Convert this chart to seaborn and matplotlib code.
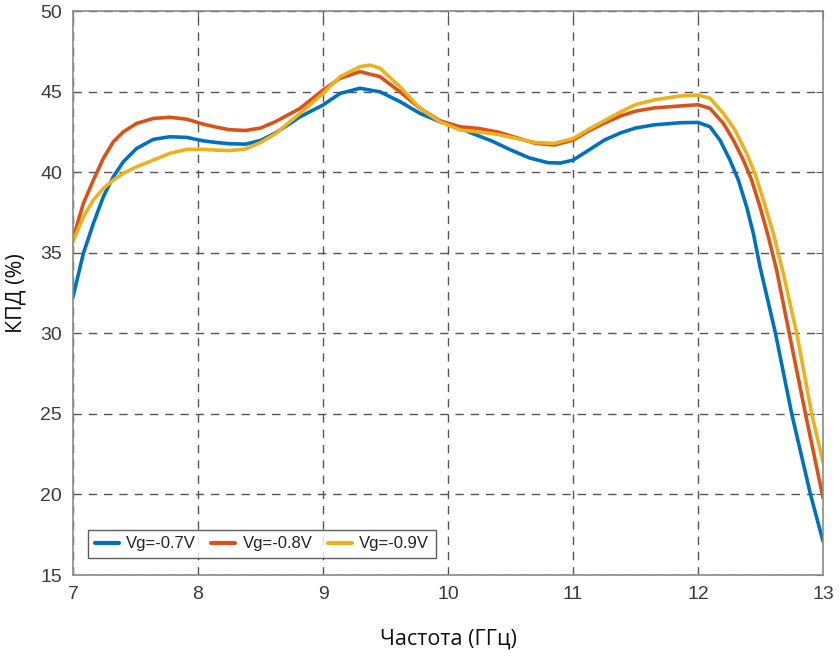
import matplotlib
matplotlib.use("Agg")
import matplotlib.pyplot as plt
import seaborn as sns
import pandas as pd

# Data (frequency in GHz, efficiency in %)
x_07 = [7.0, 7.083, 7.163, 7.243, 7.323, 7.403, 7.51, 7.643, 7.776, 7.91, 8.04, 8.15, 8.25, 8.38,
        8.5, 8.62, 8.75, 8.816, 9.0, 9.136, 9.296, 9.456, 9.616, 9.776, 9.936, 10.096, 10.2, 10.35,
        10.5, 10.65, 10.8, 10.9, 11.0, 11.12, 11.25, 11.38, 11.5, 11.65, 11.856, 12.0, 12.096,
        12.176, 12.256, 12.323, 12.389, 12.443, 12.496, 12.62, 12.75, 12.9, 13.0]
y_07 = [32.27, 34.97, 36.83, 38.49, 39.73, 40.66, 41.49, 42.05, 42.21, 42.17, 41.96, 41.85, 41.78, 41.75,
        41.98, 42.45, 43.1, 43.45, 44.18, 44.9, 45.22, 45.0, 44.39, 43.66, 43.14, 42.73, 42.4, 41.95,
        41.4, 40.9, 40.6, 40.58, 40.76, 41.35, 42.0, 42.45, 42.75, 42.95, 43.08, 43.1, 42.83,
        42.0, 40.76, 39.52, 37.86, 36.2, 34.14, 30.0, 25.0, 20.0, 17.1]

x_08 = [7.0, 7.083, 7.163, 7.243, 7.323, 7.403, 7.51, 7.643, 7.776, 7.91, 8.04, 8.15, 8.25, 8.38,
        8.5, 8.62, 8.816, 9.0, 9.136, 9.296, 9.456, 9.616, 9.776, 9.936, 10.096, 10.25, 10.4,
        10.55, 10.7, 10.85, 11.0, 11.12, 11.25, 11.38, 11.5, 11.65, 11.856, 12.0, 12.096, 12.203,
        12.283, 12.363, 12.429, 12.496, 12.563, 12.629, 12.73, 12.86, 13.0]
y_08 = [35.9, 38.07, 39.52, 40.87, 41.9, 42.52, 43.04, 43.35, 43.42, 43.3, 43.0, 42.8, 42.65, 42.6,
        42.75, 43.15, 43.97, 45.11, 45.84, 46.25, 45.94, 45.0, 43.97, 43.2, 42.83, 42.72, 42.5,
        42.15, 41.8, 41.7, 42.0, 42.55, 43.05, 43.5, 43.8, 44.0, 44.12, 44.2, 43.97, 43.04,
        42.0, 40.76, 39.52, 37.86, 36.0, 33.93, 30.0, 25.0, 19.8]

x_09 = [7.0, 7.083, 7.163, 7.243, 7.323, 7.403, 7.51, 7.643, 7.776, 7.91, 8.04, 8.15, 8.25, 8.38,
        8.5, 8.62, 8.816, 9.0, 9.136, 9.296, 9.376, 9.456, 9.616, 9.776, 9.936, 10.096, 10.25,
        10.4, 10.55, 10.7, 10.85, 11.0, 11.12, 11.25, 11.38, 11.5, 11.65, 11.856, 12.0, 12.096,
        12.203, 12.296, 12.389, 12.456, 12.523, 12.603, 12.683, 12.79, 12.91, 13.0]
y_09 = [35.69, 37.24, 38.28, 39.0, 39.52, 39.94, 40.35, 40.76, 41.18, 41.43, 41.43, 41.38, 41.35, 41.45,
        41.85, 42.4, 43.66, 44.9, 45.94, 46.56, 46.66, 46.46, 45.32, 43.97, 43.14, 42.63, 42.5,
        42.35, 42.1, 41.85, 41.8, 42.1, 42.65, 43.2, 43.75, 44.2, 44.5, 44.74, 44.8, 44.6,
        43.66, 42.63, 41.18, 39.94, 38.28, 36.2, 33.7, 30.0, 25.0, 22.0]

series_names = ["Vg=-0.7V", "Vg=-0.8V", "Vg=-0.9V"]
colors = ["#0072BD", "#D95319", "#EDB120"]
x_ticks = [7, 8, 9, 10, 11, 12, 13]
y_ticks = [15, 20, 25, 30, 35, 40, 45, 50]

frames = []
for name, xs, ys in zip(series_names, [x_07, x_08, x_09], [y_07, y_08, y_09]):
    frames.append(pd.DataFrame({"x": xs, "y": ys, "s": name}))
df = pd.concat(frames, ignore_index=True)

sns.set_style("white")
plt.rcParams['font.family'] = ['Liberation Sans', 'DejaVu Sans']

fig = plt.figure(figsize=(8.4, 6.59), dpi=100)
ax = fig.add_axes([73/840, 1-575/659, 750/840, (575-11.3)/659])

sns.lineplot(data=df, x="x", y="y", hue="s", palette=colors, hue_order=series_names,
             linewidth=2.6, ax=ax, sort=False, estimator=None,
             solid_joinstyle="round", solid_capstyle="round")

ax.set_xlim(7, 13)
ax.set_ylim(15, 50)
ax.set_xticks(x_ticks)
ax.set_yticks(y_ticks)
ax.grid(True, linestyle=(0, (6, 5)), color="#555555", linewidth=1.0)
for s in ax.spines.values():
    s.set_color("#8a8a8a")
    s.set_linewidth(1.2)
ax.tick_params(axis="both", direction="in", length=5, color="#555555",
               labelsize=14, labelcolor="#3a3a3a", top=True, right=True, pad=8)

ax.set_xlabel("Частота (ГГц)", fontsize=15.5, family=["Open Sans", "DejaVu Sans"],
              color="#111111", labelpad=18)
ax.set_ylabel("КПД (%)", fontsize=15.5, family=["Open Sans", "DejaVu Sans"],
              color="#111111", labelpad=10)

leg = ax.legend(loc="lower left", bbox_to_anchor=(0.02, 0.03), borderaxespad=0,
                ncol=3, fontsize=12, frameon=True, fancybox=False,
                handlelength=1.45, columnspacing=0.9, handletextpad=0.45,
                borderpad=0.4)
leg.get_frame().set_edgecolor("#333333")
leg.get_frame().set_linewidth(1.0)
for t in leg.get_texts():
    t.set_color("#222222")
for l in leg.get_lines():
    l.set_linewidth(3)

fig.savefig("out.png", dpi=100)
